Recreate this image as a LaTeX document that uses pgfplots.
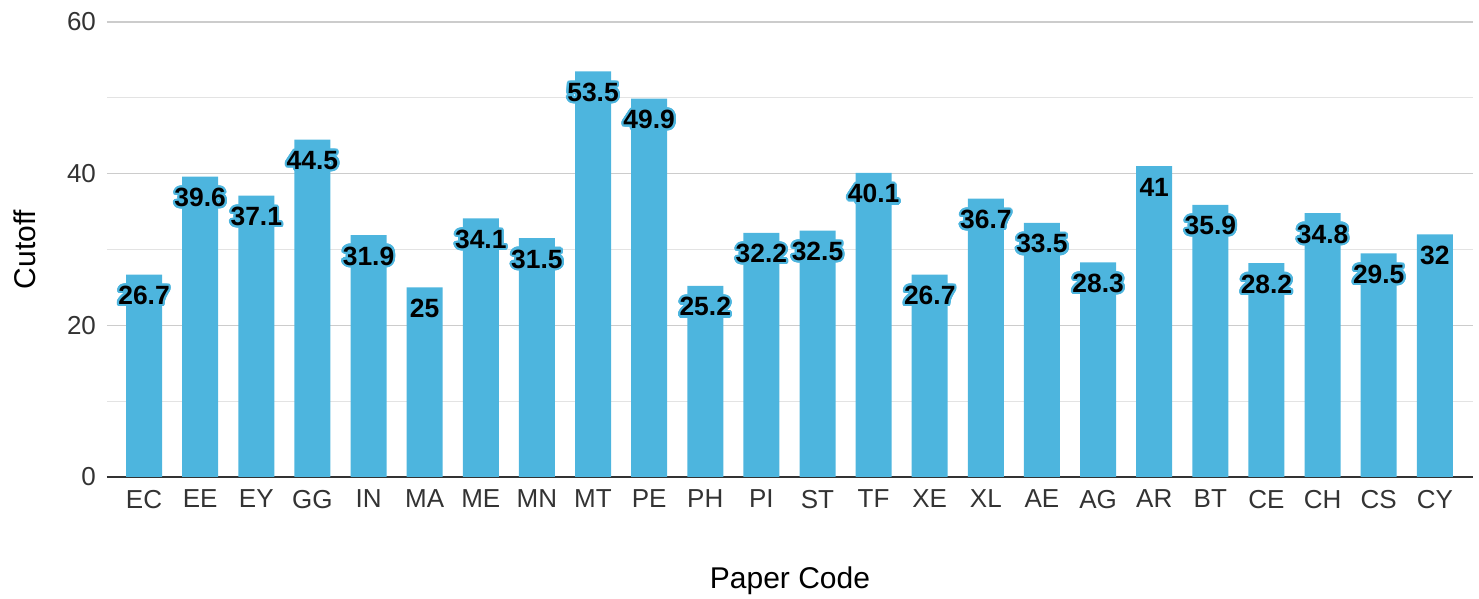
\documentclass[border=0pt]{standalone}
\usepackage{pgfplots}
\pgfplotsset{compat=1.18}
\usepackage{fontspec}
\setmainfont{Liberation Sans}
\usepackage{contour}
\contourlength{1.1pt}
\contournumber{24}
\definecolor{barblue}{HTML}{4DB5DE}
\definecolor{majgrid}{HTML}{CCCCCC}
\definecolor{mingrid}{HTML}{E3E3E3}
\definecolor{ticktext}{HTML}{333333}
\pgfplotstableread{
x code val
0 EC 26.7
1 EE 39.6
2 EY 37.1
3 GG 44.5
4 IN 31.9
5 MA 25
6 ME 34.1
7 MN 31.5
8 MT 53.5
9 PE 49.9
10 PH 25.2
11 PI 32.2
12 ST 32.5
13 TF 40.1
14 XE 26.7
15 XL 36.7
16 AE 33.5
17 AG 28.3
18 AR 41
19 BT 35.9
20 CE 28.2
21 CH 34.8
22 CS 29.5
23 CY 32
}\datatable
\begin{document}
\begin{tikzpicture}
\useasboundingbox (-53.5pt,-61pt) rectangle (686pt,238.5pt);
\begin{axis}[
  at={(0,0)}, anchor=south west,
  scale only axis, width=683pt, height=227.5pt,
  ymin=0, ymax=60,
  xmin=-0.66, xmax=23.68,
  ytick={0,20,40,60},
  minor ytick={10,30,50},
  ymajorgrids, yminorgrids,
  major grid style={majgrid, line width=0.6pt},
  minor grid style={mingrid, line width=0.6pt},
  axis y line*=left, axis x line*=bottom,
  y axis line style={draw=none},
  x axis line style={draw=ticktext, line width=0.8pt},
  major tick length=0pt, minor tick length=0pt,
  xtick=data,
  xticklabels from table={\datatable}{code},
  ticklabel style={font=\fontsize{13pt}{15pt}\selectfont, text=ticktext},
  /pgf/number format/assume math mode=true,
  xticklabel style={yshift=-3pt},
  yticklabel style={xshift=-2pt},
  xlabel={Paper Code},
  ylabel={Cutoff},
  label style={font=\fontsize{15pt}{18pt}\selectfont},
  xlabel style={at={(axis description cs:0.5,0)}, anchor=center, yshift=-52pt},
  ylabel style={at={(axis description cs:0,0.5)}, anchor=center, yshift=41pt},
]
\addplot[ybar, bar width=18pt, fill=barblue, draw=none,
  nodes near coords={\contour{barblue}{\pgfmathprintnumber{\pgfplotspointmeta}}},
  point meta=explicit symbolic,
  every node near coord/.append style={anchor=center, yshift=-11pt,
     font=\bfseries\fontsize{13.2pt}{15pt}\selectfont, text=black}
] table[x=x, y=val, meta=val] {\datatable};
\end{axis}
\end{tikzpicture}
\end{document}
